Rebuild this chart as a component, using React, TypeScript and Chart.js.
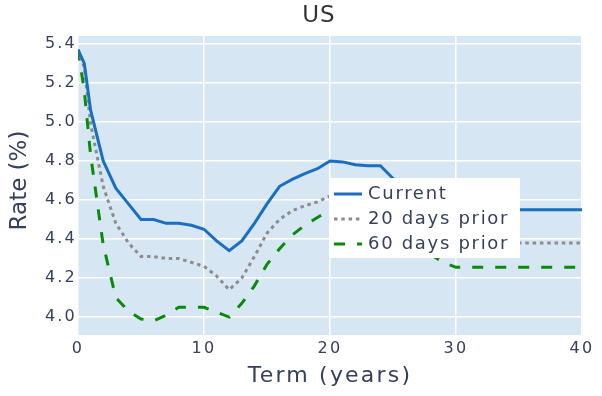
import React, { useEffect, useRef } from "react";
import { Chart, registerables } from "chart.js";

Chart.register(...registerables);

const chartTitle = "US";
const xTitle = "Term (years)";
const yTitle = "Rate (%)";
const terms = [0, 0.5, 1, 2, 3, 4, 5, 6, 7, 8, 9, 10, 11, 12, 13, 14, 15, 16, 17, 18, 19, 20, 21, 22, 23, 24, 25, 26, 27, 28, 29, 30, 40];
const currentRates = [5.37, 5.3, 5.06, 4.8, 4.66, 4.58, 4.5, 4.5, 4.48, 4.48, 4.47, 4.45, 4.39, 4.34, 4.39, 4.48, 4.58, 4.67, 4.705, 4.735, 4.76, 4.8, 4.795, 4.78, 4.775, 4.775, 4.71, 4.66, 4.61, 4.58, 4.56, 4.55, 4.55];
const prior20Rates = [5.37, 5.28, 4.99, 4.67, 4.48, 4.38, 4.31, 4.31, 4.3, 4.3, 4.28, 4.26, 4.21, 4.14, 4.2, 4.31, 4.43, 4.5, 4.545, 4.57, 4.59, 4.62, 4.63, 4.62, 4.61, 4.6, 4.55, 4.49, 4.44, 4.41, 4.39, 4.38, 4.38];
const prior60Rates = [5.37, 5.16, 4.83, 4.37, 4.1, 4.03, 3.99, 3.98, 4.01, 4.05, 4.05, 4.05, 4.025, 4.0, 4.07, 4.16, 4.27, 4.35, 4.42, 4.47, 4.51, 4.55, 4.57, 4.57, 4.56, 4.54, 4.49, 4.43, 4.37, 4.32, 4.28, 4.255, 4.255];
const seriesLabels = ["Current", "20 days prior", "60 days prior"];
const xTicks = [0, 10, 20, 30, 40];
const yTicks = [4.0, 4.2, 4.4, 4.6, 4.8, 5.0, 5.2, 5.4];

const FONT = "'DejaVu Sans', sans-serif";
const TEXT = "#34405e";
const SPACING = "2.2px";

const spacingPlugin = {
  id: "spacing",
  beforeInit(chart: any) { chart.ctx.letterSpacing = SPACING; },
  beforeLayout(chart: any) { chart.ctx.letterSpacing = SPACING; },
  beforeDraw(chart: any) { chart.ctx.letterSpacing = SPACING; },
};

const bgPlugin = {
  id: "plotBg",
  beforeDraw(chart: any) {
    const { ctx, chartArea: a } = chart;
    ctx.save();
    ctx.fillStyle = "#d6e6f2";
    ctx.fillRect(a.left, a.top, a.right - a.left, a.bottom - a.top);
    ctx.restore();
  },
};

const textPlugin = {
  id: "customTexts",
  afterDraw(chart: any) {
    const { ctx, chartArea: a } = chart;
    ctx.save();
    ctx.letterSpacing = "1px";
    ctx.font = `23px ${FONT}`;
    ctx.fillStyle = "#333333";
    ctx.textAlign = "center";
    ctx.textBaseline = "middle";
    ctx.fillText(chartTitle, 319, 16);
    ctx.restore();

    ctx.save();
    ctx.letterSpacing = "0px";
    ctx.font = `23px ${FONT}`;
    ctx.fillStyle = TEXT;
    ctx.textAlign = "center";
    ctx.textBaseline = "middle";
    ctx.translate(20, (a.top + a.bottom) / 2 - 5);
    ctx.rotate(-Math.PI / 2);
    ctx.fillText(yTitle, 0, 0);
    ctx.restore();
  },
};

const legendPlugin = {
  id: "boxLegend",
  afterDatasetsDraw(chart: any) {
    const { ctx } = chart;
    const bx = 329, by = 178, bw = 191, bh = 80;
    ctx.save();
    ctx.letterSpacing = "1.7px";
    ctx.fillStyle = "#ffffff";
    ctx.fillRect(bx, by, bw, bh);
    ctx.font = `18px ${FONT}`;
    ctx.textBaseline = "middle";
    ctx.textAlign = "left";
    chart.data.datasets.forEach((ds: any, i: number) => {
      const y = by + 16 + i * 25;
      ctx.save();
      ctx.strokeStyle = ds.borderColor;
      ctx.lineWidth = ds.borderWidth;
      ctx.setLineDash(ds.borderDash || []);
      ctx.beginPath();
      ctx.moveTo(bx + 5, y);
      ctx.lineTo(bx + 33, y);
      ctx.stroke();
      ctx.restore();
      ctx.fillStyle = TEXT;
      ctx.fillText(ds.label, bx + 39, y);
    });
    ctx.restore();
  },
};

export default function App() {
  const ref = useRef<HTMLCanvasElement>(null);
  useEffect(() => {
    if (!ref.current) return;
    const mk = (vals: number[]) => terms.map((t, i) => ({ x: t, y: vals[i] }));
    const chart = new Chart(ref.current, {
      type: "line",
      data: {
        datasets: [
          { label: seriesLabels[0], data: mk(currentRates), borderColor: "#1a6fc0", borderWidth: 3, pointRadius: 0, tension: 0 },
          { label: seriesLabels[1], data: mk(prior20Rates), borderColor: "#8c8c8c", borderWidth: 3, borderDash: [3.5, 3.8], pointRadius: 0, tension: 0 },
          { label: seriesLabels[2], data: mk(prior60Rates), borderColor: "#0a8a0a", borderWidth: 3, borderDash: [11, 12], pointRadius: 0, tension: 0 },
        ],
      },
      options: {
        animation: false,
        responsive: true,
        maintainAspectRatio: false,
        layout: { padding: { top: 36, right: 20, left: 0, bottom: 0 } },
        plugins: { legend: { display: false }, title: { display: false }, tooltip: { enabled: false } },
        scales: {
          x: {
            type: "linear",
            min: 0,
            max: 40,
            afterFit: (s: any) => { s.height = 61; },
            afterBuildTicks: (s: any) => { s.ticks = xTicks.map((v) => ({ value: v })); },
            grid: { color: "#ffffff", lineWidth: 1.5, drawTicks: false },
            border: { display: false },
            ticks: { color: TEXT, font: { family: FONT, size: 16 }, padding: 4, maxRotation: 0 },
            title: { display: true, text: xTitle, color: TEXT, font: { family: FONT, size: 22 }, padding: { top: 0, bottom: 7 } },
          },
          y: {
            type: "linear",
            min: 3.908,
            max: 5.44,
            afterFit: (s: any) => { s.width = 78; },
            afterBuildTicks: (s: any) => { s.ticks = yTicks.map((v) => ({ value: v })); },
            grid: { color: "#ffffff", lineWidth: 1.5, drawTicks: false },
            border: { display: false },
            ticks: { color: TEXT, font: { family: FONT, size: 16 }, padding: 1, callback: (v: any) => Number(v).toFixed(1) },
            title: { display: false },
          },
        },
      },
      plugins: [spacingPlugin, bgPlugin, textPlugin, legendPlugin],
    });
    return () => chart.destroy();
  }, []);
  return (
    <div style={{ position: "fixed", left: 0, top: 0, width: 602, height: 396, background: "#fff" }}>
      <canvas ref={ref} />
    </div>
  );
}
